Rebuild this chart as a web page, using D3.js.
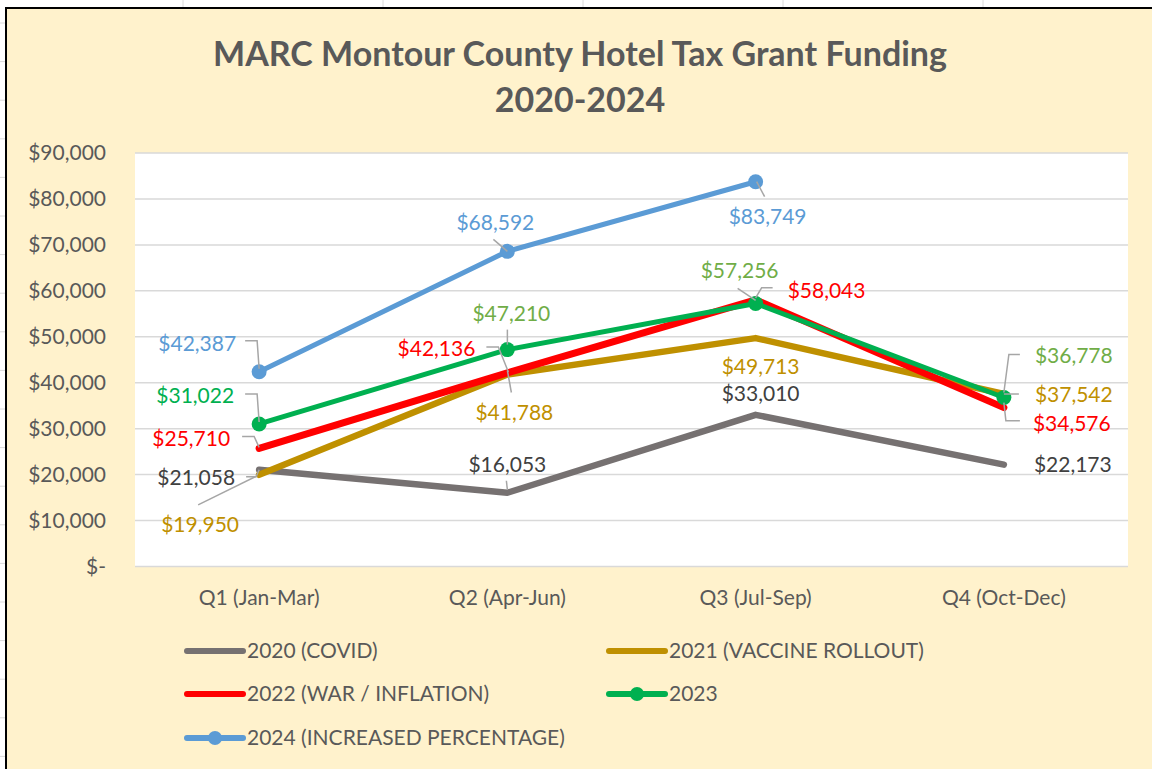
<!DOCTYPE html>
<html>
<head>
<meta charset="utf-8">
<script src="https://cdn.jsdelivr.net/npm/d3@7"></script>
<style>
  body { margin: 0; background: #fff; }
  svg { display: block; font-family: Lato, "Open Sans", sans-serif; }
</style>
</head>
<body>
<div id="chart"></div>
<script>
// Quarters on the x axis
const quarters = ["Q1 (Jan-Mar)", "Q2 (Apr-Jun)", "Q3 (Jul-Sep)", "Q4 (Oct-Dec)"];

// Funding per quarter, one array per year
const y2020 = [21058, 16053, 33010, 22173];
const y2021 = [19950, 41788, 49713, 37542];
const y2022 = [25710, 42136, 58043, 34576];
const y2023 = [31022, 47210, 57256, 36778];
const y2024 = [42387, 68592, 83749, null];

const seriesNames = ["2020 (COVID)", "2021 (VACCINE ROLLOUT)", "2022 (WAR / INFLATION)", "2023", "2024 (INCREASED PERCENTAGE)"];
const yTicks = [0, 10000, 20000, 30000, 40000, 50000, 60000, 70000, 80000, 90000];

const width = 1152, height = 769;

const series = [
    { name: seriesNames[0], values: y2020, color: "#767171", label: "#404040", width: 6.5, marker: false },
    { name: seriesNames[1], values: y2021, color: "#BF9000", label: "#BF9000", width: 6.5, marker: false },
    { name: seriesNames[2], values: y2022, color: "#FF0000", label: "#FF0000", width: 7, marker: false },
    { name: seriesNames[3], values: y2023, color: "#00B050", label: "#70AD47", width: 5, marker: true },
    { name: seriesNames[4], values: y2024, color: "#5B9BD5", label: "#5B9BD5", width: 5, marker: true }
];

// where each data label sits relative to its point (anchor, dx, dy, leader path)
const labelPlacement = [
    [
        { a: "end", dx: -24, dy: 8, lead: [[-13, 7], [-3, 7], [0, 0]] },
        { a: "middle", dx: 0, dy: -28, lead: [[-1, -12], [0, -3]] },
        { a: "middle", dx: 5, dy: -21 },
        { a: "start", dx: 30, dy: 0 }
    ],
    [
        { a: "middle", dx: -59, dy: 50, lead: [[-61, 30], [-2, 1]] },
        { a: "middle", dx: 7, dy: 38, lead: [[0, -4], [4, 18]] },
        { a: "middle", dx: 5, dy: 29 },
        { a: "start", dx: 31, dy: 1, lead: [[0, 0], [15, 0]] }
    ],
    [
        { a: "end", dx: -29, dy: -10, lead: [[-17, -12], [-5, -12], [0, -1]] },
        { a: "end", dx: -32, dy: -24, lead: [[-21, -26], [-9, -26], [1, -1]] },
        { a: "start", dx: 32, dy: -9, lead: [[17, -12], [6, -12], [0, -2]] },
        { a: "start", dx: 29, dy: 16, lead: [[0, -5], [2, 13], [16, 13]] }
    ],
    [
        { a: "end", dx: -25, dy: -28, lead: [[-14, -30], [-2, -30], [0, -2]], c: "#00B050" },
        { a: "middle", dx: 4, dy: -36, lead: [[0, -20], [0, -5]] },
        { a: "middle", dx: -16, dy: -33, lead: [[-18, -15], [0, -3]] },
        { a: "start", dx: 31, dy: -42, lead: [[16, -43], [5, -43], [0, -5]] }
    ],
    [
        { a: "end", dx: -23, dy: -28, lead: [[-14, -31], [-2, -31], [0, -3]] },
        { a: "middle", dx: -12, dy: -29, lead: [[-14, -12], [0, 0]] },
        { a: "middle", dx: 12, dy: 35, lead: [[1, 0], [9, 15]] },
        null
    ]
];

const svg = d3.select("#chart").append("svg")
    .attr("width", width)
    .attr("height", height);

// spreadsheet cells behind the chart
svg.append("g").selectAll("line")
    .data(d3.range(183, width, 200))
    .join("line")
    .attr("x1", d => d).attr("x2", d => d)
    .attr("y1", 0).attr("y2", height)
    .attr("stroke", "#DADADA").attr("stroke-width", 1);
svg.append("g").selectAll("line")
    .data(d3.range(23, height, 38.6))
    .join("line")
    .attr("x1", 0).attr("x2", width)
    .attr("y1", d => d).attr("y2", d => d)
    .attr("stroke", "#DADADA").attr("stroke-width", 1);

// chart area
svg.append("rect")
    .attr("x", 6).attr("y", 8)
    .attr("width", 1160).attr("height", 780)
    .attr("fill", "#FFF2CC")
    .attr("stroke", "#000").attr("stroke-width", 2);

const x = d3.scalePoint().domain(quarters).range([135, 1128]).padding(0.5);
const y = d3.scaleLinear().domain([0, 90000]).range([566.5, 153]);

// plot area
svg.append("rect")
    .attr("x", 135).attr("y", y(90000))
    .attr("width", 993).attr("height", y(0) - y(90000))
    .attr("fill", "#fff");

svg.append("g").selectAll("line")
    .data(yTicks)
    .join("line")
    .attr("x1", 135).attr("x2", 1128)
    .attr("y1", d => y(d)).attr("y2", d => y(d))
    .attr("stroke", "#D9D9D9").attr("stroke-width", 1.5);

// title
const title = svg.append("text")
    .attr("text-anchor", "middle")
    .attr("fill", "#595959")
    .attr("font-weight", "bold")
    .attr("font-size", "34px");
title.append("tspan").attr("x", 580).attr("y", 66).text("MARC Montour County Hotel Tax Grant Funding");
title.append("tspan").attr("x", 580).attr("y", 112).text("2020-2024");

// y axis labels
const fmt = d3.format("$,");
svg.append("g").selectAll("text")
    .data(yTicks)
    .join("text")
    .attr("x", 106)
    .attr("y", d => y(d))
    .attr("dy", "0.35em")
    .attr("text-anchor", "end")
    .attr("fill", "#595959")
    .attr("font-size", "21px")
    .text(d => d === 0 ? "$-" : fmt(d));

// x axis labels
svg.append("g").selectAll("text")
    .data(quarters)
    .join("text")
    .attr("x", d => x(d))
    .attr("y", 598)
    .attr("dy", "0.35em")
    .attr("text-anchor", "middle")
    .attr("fill", "#595959")
    .attr("font-size", "21px")
    .text(d => d);

// lines
const line = d3.line()
    .defined(d => d.v !== null)
    .x(d => x(d.q))
    .y(d => y(d.v));

series.forEach(s => {
    const pts = s.values.map((v, i) => ({ q: quarters[i], v: v }));
    svg.append("path")
        .datum(pts)
        .attr("d", line)
        .attr("fill", "none")
        .attr("stroke", s.color)
        .attr("stroke-width", s.width)
        .attr("stroke-linecap", "round")
        .attr("stroke-linejoin", "round");
    if (s.marker) {
        svg.append("g").selectAll("circle")
            .data(pts.filter(d => d.v !== null))
            .join("circle")
            .attr("cx", d => x(d.q))
            .attr("cy", d => y(d.v))
            .attr("r", 7.5)
            .attr("fill", s.color);
    }
});

// data labels and leader lines
const labels = svg.append("g");
series.forEach((s, si) => {
    s.values.forEach((v, i) => {
        const p = labelPlacement[si][i];
        if (v === null || !p) return;
        const px = x(quarters[i]), py = y(v);
        if (p.lead) {
            labels.append("polyline")
                .attr("points", p.lead.map(o => [px + o[0], py + o[1]].join(",")).join(" "))
                .attr("fill", "none")
                .attr("stroke", "#A6A6A6")
                .attr("stroke-width", 1.5);
        }
        labels.append("text")
            .attr("x", px + p.dx)
            .attr("y", py + p.dy)
            .attr("dy", "0.35em")
            .attr("text-anchor", p.a)
            .attr("fill", p.c || s.label)
            .attr("font-size", "21px")
            .text(fmt(v));
    });
});

// legend
const legendPos = [[187, 651], [609, 651], [187, 694], [609, 694], [187, 738]];
const legend = svg.append("g").selectAll("g")
    .data(series)
    .join("g")
    .attr("transform", (d, i) => `translate(${legendPos[i][0]},${legendPos[i][1]})`);

legend.append("line")
    .attr("x1", 0).attr("x2", 56)
    .attr("stroke", d => d.color)
    .attr("stroke-width", 6)
    .attr("stroke-linecap", "round");
legend.filter(d => d.marker).append("circle")
    .attr("cx", 28).attr("r", 7)
    .attr("fill", d => d.color);
legend.append("text")
    .attr("x", 60)
    .attr("dy", "0.35em")
    .attr("fill", "#595959")
    .attr("font-size", "21px")
    .text(d => d.name);
</script>
</body>
</html>
